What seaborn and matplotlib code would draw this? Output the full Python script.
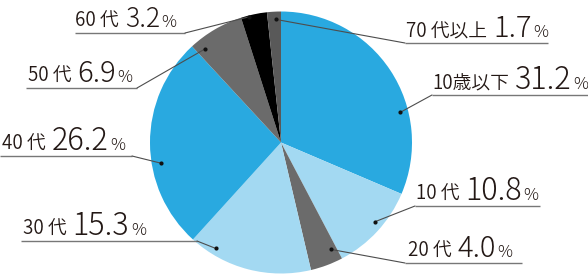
import matplotlib
matplotlib.use("Agg")
import matplotlib.pyplot as plt
import seaborn as sns
import numpy as np

# ---- data ----
categories = ["10歳以下", "10 代", "20 代", "30 代", "40 代", "50 代", "60 代", "70 代以上"]
shares = [31.2, 10.8, 4.0, 15.3, 26.2, 6.9, 3.2, 1.7]
value_labels = ["31.2", "10.8", "4.0", "15.3", "26.2", "6.9", "3.2", "1.7"]

# ---- style ----
sns.set_theme(style="white")
plt.rcParams["font.family"] = ["Noto Sans CJK JP", "DejaVu Sans"]
palette = sns.color_palette(["#29a9e0", "#a3d9f2", "#6b6b6b", "#a3d9f2",
                             "#29a9e0", "#6b6b6b", "#000000", "#595959"])
TEXT = "#231815"

W, H = 588, 275
fig = plt.figure(figsize=(W / 100, H / 100), dpi=100)
ax = fig.add_axes([0, 0, 1, 1])

cx, cy_pix, R = 281, 142.5, 131
center = (cx, H - cy_pix)
wedges, _ = ax.pie(shares, colors=palette, startangle=90, counterclock=False,
                   center=center, radius=R, wedgeprops=dict(linewidth=0))
ax.set_xlim(0, W)
ax.set_ylim(0, H)
ax.set_aspect("equal")
ax.axis("off")

# label layout: text x, underline y (px from top), underline x0, x1,
# dot position within wedge (fraction of angle, fraction of radius), value size
layout = [
    (432, 95, 432, 588, 0.67, 0.94, 22),
    (416, 206, 415, 540, 0.43, 0.94, 22),
    (408, 263, 405, 522, 0.19, 0.90, 21),
    (23, 241, 21, 197, 0.81, 0.95, 22),
    (2, 156, 0, 132, 0.40, 0.93, 22),
    (28, 88, 26, 137, 0.15, 0.92, 21),
    (75, 33, 75, 185, 0.30, 0.99, 19),
    (406, 43, 405, 548, 0.63, 0.94, 21),
]

fig.canvas.draw()
renderer = fig.canvas.get_renderer()

for w, cat, val, (tx, uy, ux0, ux1, af, rf, vsize) in zip(wedges, categories, value_labels, layout):
    phi = np.deg2rad(w.theta2 - af * (w.theta2 - w.theta1))
    dx = center[0] + rf * R * np.cos(phi)
    dy = center[1] + rf * R * np.sin(phi)
    y_ul = H - uy
    # underline + leader
    ax.plot([ux0, ux1], [y_ul, y_ul], color="#777777", lw=1.0, solid_capstyle="butt")
    ex = ux1 if ux1 < cx else ux0
    ax.plot([ex, dx], [y_ul, dy], color="#4d4d4d", lw=0.8)
    ax.plot([dx], [dy], "o", color="#111111", ms=3, mew=0)
    # text pieces
    base = y_ul + 6
    t1 = ax.text(tx, base, cat, fontsize=13.5, color=TEXT, va="baseline", ha="left",
                 fontweight=350)
    bb = t1.get_window_extent(renderer)
    t2 = ax.text(bb.x1 + 6, base, val, fontsize=vsize, color=TEXT, va="baseline",
                 ha="left", fontweight="light")
    bb2 = t2.get_window_extent(renderer)
    ax.text(bb2.x1 + 1.5, base, "%", fontsize=12, color=TEXT, va="baseline",
            ha="left", fontweight="light")

fig.savefig("out.png", dpi=100)
